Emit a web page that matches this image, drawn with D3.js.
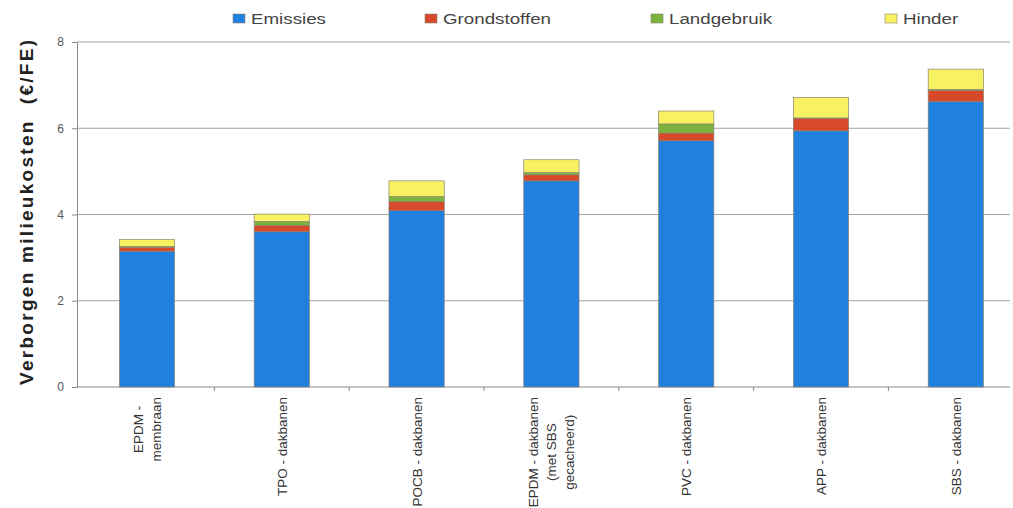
<!DOCTYPE html>
<html>
<head>
<meta charset="utf-8">
<script src="https://cdn.jsdelivr.net/npm/d3@7"></script>
<style>
  html, body { margin: 0; padding: 0; background: #fff; }
  svg { display: block; font-family: Arial, "Liberation Sans", sans-serif; }
</style>
</head>
<body>
<svg id="chart" width="1013" height="508"></svg>
<script>
// Roofing products (category labels, split into lines)
const categories = [
  ["EPDM -", "membraan"],
  ["TPO - dakbanen"],
  ["POCB - dakbanen"],
  ["EPDM - dakbanen", "(met SBS", "gecacheerd)"],
  ["PVC - dakbanen"],
  ["APP - dakbanen"],
  ["SBS - dakbanen"]
];
// Hidden environmental cost per component (€/FE)
const emissies     = [3.15, 3.60, 4.09, 4.78, 5.71, 5.94, 6.62];
const grondstoffen = [0.09, 0.15, 0.21, 0.14, 0.18, 0.29, 0.26];
const landgebruik  = [0.02, 0.09, 0.115, 0.05, 0.21, 0.01, 0.02];
const hinder       = [0.16, 0.17, 0.365, 0.30, 0.30, 0.47, 0.47];
const seriesNames  = ["Emissies", "Grondstoffen", "Landgebruik", "Hinder"];
const seriesColors = ["#1f80e0", "#d8482b", "#7bb33c", "#f8f263"];
const yTicks = [0, 2, 4, 6, 8];

const svg = d3.select("#chart");
const plot = { left: 77, right: 1010, top: 42, bottom: 387 };

const keys = categories.map(c => c.join(" "));
const rows = keys.map((k, i) => ({
  key: k,
  Emissies: emissies[i],
  Grondstoffen: grondstoffen[i],
  Landgebruik: landgebruik[i],
  Hinder: hinder[i]
}));

const x = d3.scaleBand()
  .domain(keys)
  .range([79.6, 1023.2])
  .paddingInner(0.59)
  .paddingOuter(0.295);

const y = d3.scaleLinear().domain([0, 8]).range([plot.bottom, plot.top]);

// Horizontal gridlines
svg.append("g")
  .selectAll("line")
  .data(yTicks.filter(t => t > 0))
  .join("line")
  .attr("x1", plot.left).attr("x2", plot.right)
  .attr("y1", d => y(d)).attr("y2", d => y(d))
  .attr("stroke", "#a3a3a3").attr("stroke-width", 1);

// Y axis
const yAxis = svg.append("g")
  .attr("transform", `translate(${plot.left},0)`)
  .call(d3.axisLeft(y).tickValues(yTicks).tickSize(5).tickPadding(8).tickFormat(d3.format("d")));
yAxis.select(".domain").attr("stroke", "#8a8a8a");
yAxis.selectAll(".tick line").attr("stroke", "#8a8a8a");
yAxis.selectAll(".tick text")
  .attr("fill", "#555")
  .attr("font-size", 12)
  .attr("font-family", "Arial, 'Liberation Sans', sans-serif");

// X axis baseline and category separator ticks
svg.append("line")
  .attr("x1", plot.left).attr("x2", plot.right)
  .attr("y1", y(0)).attr("y2", y(0))
  .attr("stroke", "#8a8a8a").attr("stroke-width", 1);

const step = x.step();
svg.append("g")
  .selectAll("line")
  .data(keys.slice(0, -1))
  .join("line")
  .attr("x1", d => x(d) + x.bandwidth() / 2 + step / 2)
  .attr("x2", d => x(d) + x.bandwidth() / 2 + step / 2)
  .attr("y1", y(0)).attr("y2", y(0) + 4)
  .attr("stroke", "#8a8a8a");

// Stacked bars
const stack = d3.stack().keys(seriesNames)(rows);
svg.append("g")
  .selectAll("g")
  .data(stack)
  .join("g")
  .attr("fill", (d, i) => seriesColors[i])
  .selectAll("rect")
  .data(d => d)
  .join("rect")
  .attr("x", d => x(d.data.key))
  .attr("width", x.bandwidth())
  .attr("y", d => y(d[1]))
  .attr("height", d => Math.max(0, y(d[0]) - y(d[1])))
  .attr("stroke", "#8c8470")
  .attr("stroke-width", 0.7);

// Category labels, rotated, lines centred on each other
const labelTop = y(0) + 10;
const lineGap = 18;
categories.forEach((lines, i) => {
  const cx = x(keys[i]) + x.bandwidth() / 2;
  const g = svg.append("g");
  const texts = lines.map((ln, j) => g.append("text")
    .text(ln)
    .attr("font-size", 13.5)
    .attr("fill", "#333")
    .attr("text-anchor", "middle"));
  const maxLen = d3.max(texts, t => t.node().getComputedTextLength());
  texts.forEach((t, j) => {
    const lx = cx + (j - (lines.length - 1) / 2) * lineGap + 5;
    const ly = labelTop + maxLen / 2;
    t.attr("transform", `translate(${lx},${ly}) rotate(-90)`);
  });
});

// Y axis title
svg.append("text")
  .attr("transform", `translate(33,${(40 + 385) / 2}) rotate(-90)`)
  .attr("text-anchor", "middle")
  .attr("font-size", 19)
  .attr("font-weight", "bold")
  .attr("fill", "#222")
  .attr("textLength", 345)
  .attr("lengthAdjust", "spacing")
  .style("white-space", "pre")
  .text("Verborgen milieukosten  (€/FE)");

// Legend
const legendX = [233, 425, 651, 885];
const legend = svg.append("g");
seriesNames.forEach((name, i) => {
  const g = legend.append("g").attr("transform", `translate(${legendX[i]},0)`);
  g.append("rect")
    .attr("x", 0).attr("y", 14)
    .attr("width", 12).attr("height", 9)
    .attr("fill", seriesColors[i])
    .attr("stroke", "#8c8470").attr("stroke-width", 0.6);
  g.append("text")
    .attr("transform", "translate(18,23.5) scale(1.25,1)")
    .attr("font-size", 15)
    .attr("fill", "#444")
    .text(name);
});
</script>
</body>
</html>
